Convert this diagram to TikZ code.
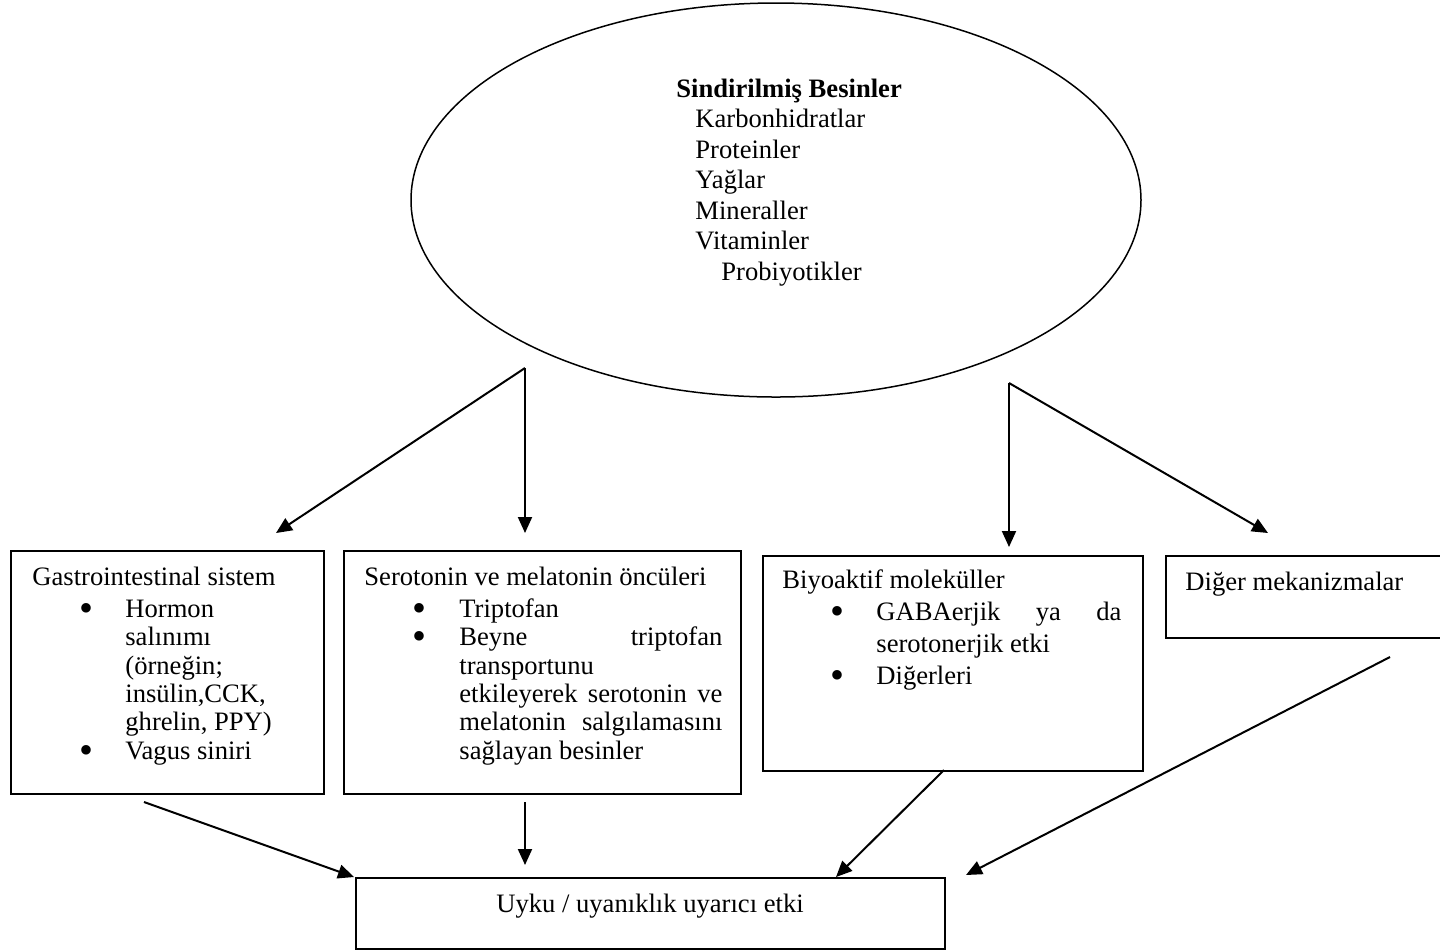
\documentclass[tikz,border=0pt]{standalone}
\usepackage{fontspec}
\setmainfont{Liberation Serif}
\usetikzlibrary{arrows.meta,shapes.geometric}
\newcommand{\bigbul}{\smash{\raisebox{-2.3pt}{\scalebox{1.5}{\textbullet}}}}
\begin{document}
\begin{tikzpicture}[x=0.5pt,y=-0.5pt,
  box/.style={draw,line width=1pt,anchor=north west,inner sep=0pt},
  txt/.style={anchor=base west,inner sep=0pt,font=\fontsize{13.3}{14.3}\selectfont},
  ctxt/.style={anchor=base,inner sep=0pt,font=\fontsize{13.3}{14.3}\selectfont},
  bul/.style={anchor=base,inner sep=0pt,font=\fontsize{13.3}{14.3}\selectfont},
  arr/.style={line width=1pt,-{Triangle[length=8pt,width=7pt]}}]
\useasboundingbox (0,0) rectangle (1440,950);

% ellipse
\node[draw,ellipse,line width=0.75pt,minimum width=365pt,minimum height=197pt,inner sep=0pt] (ell) at (776,200) {};
\node[txt] (e0) at (676,97) {\textbf{Sindirilmiş Besinler}};
\node[txt] (e1) at (695,127) {Karbonhidratlar};
\node[txt] (e2) at (695,158) {Proteinler};
\node[txt] (e3) at (695,188) {Yağlar};
\node[txt] (e4) at (695,219) {Mineraller};
\node[txt] (e5) at (695,249) {Vitaminler};
\node[txt] (e6) at (721,280) {Probiyotikler};

% boxes
\node[box,minimum width=156.5pt,minimum height=121.5pt] (gi) at (10,550) {};
\node[box,minimum width=198.5pt,minimum height=121.5pt] (ser) at (343,550) {};
\node[box,minimum width=190pt,minimum height=107.5pt] (bio) at (762,555) {};
\node[box,minimum width=138.5pt,minimum height=41pt] (oth) at (1165,555) {};
\node[box,minimum width=294.5pt,minimum height=35.5pt] (uyku) at (355,877) {};

% GI text
\node[txt] (g0) at (32,585) {Gastrointestinal sistem};
\node[bul] (gb1) at (86,617) {\bigbul};
\node[txt] (g1) at (125,617) {Hormon};
\node[txt] (g2) at (125,645) {salınımı};
\node[txt] (g3) at (125,674) {(örneğin;};
\node[txt] (g4) at (125,702) {insülin,CCK,};
\node[txt] (g5) at (125,730) {ghrelin, PPY)};
\node[bul] (gb2) at (86,759) {\bigbul};
\node[txt] (g6) at (125,759) {Vagus siniri};

% Serotonin text
\node[txt] (s0) at (364,585) {Serotonin ve melatonin öncüleri};
\node[bul] (sb1) at (419,617) {\bigbul};
\node[txt] (s1) at (459,617) {Triptofan};
\node[bul] (sb2) at (419,645) {\bigbul};
\node[txt] (s2) at (459,645) {\makebox[131.5pt][s]{Beyne\hfill triptofan}};
\node[txt] (s3) at (459,674) {transportunu};
\node[txt] (s4) at (459,702) {\makebox[131.5pt][s]{etkileyerek serotonin ve}};
\node[txt] (s5) at (459,730) {\makebox[131.5pt][s]{melatonin salgılamasını}};
\node[txt] (s6) at (459,759) {sağlayan besinler};

% Bio text
\node[txt] (b0) at (782,588) {Biyoaktif moleküller};
\node[bul] (bb1) at (837,620) {\bigbul};
\node[txt] (b1) at (876,620) {\makebox[122.5pt][s]{GABAerjik ya da}};
\node[txt] (b2) at (876,652) {serotonerjik etki};
\node[bul] (bb2) at (837,684) {\bigbul};
\node[txt] (b3) at (876,684) {Diğerleri};

% Other
\node[txt] (o0) at (1185,590) {Diğer mekanizmalar};

% Uyku
\node[ctxt] (u0) at (650,912) {Uyku / uyanıklık uyarıcı etki};

% connector points
\coordinate (vL) at (525,368);
\coordinate (vR) at (1009,383);
\coordinate (tGI) at (276,533);
\coordinate (tSer) at (525,533);
\coordinate (tBio) at (1009,547);
\coordinate (tOth) at (1268,533);
\coordinate (fGI) at (144,802);
\coordinate (fSer) at (525,802);
\coordinate (fBio) at (944,770);
\coordinate (fOth) at (1390,657);
\coordinate (hGI) at (354,877);
\coordinate (hSer) at (525,865);
\coordinate (hBio) at (836,877);
\coordinate (hOth) at (966,875);

\draw[arr] (vL) -- (tGI);
\draw[arr] (vL) -- (tSer);
\draw[arr] (vR) -- (tBio);
\draw[arr] (vR) -- (tOth);
\draw[arr] (fGI) -- (hGI);
\draw[arr] (fSer) -- (hSer);
\draw[arr] (fBio) -- (hBio);
\draw[arr] (fOth) -- (hOth);
\end{tikzpicture}
\end{document}
